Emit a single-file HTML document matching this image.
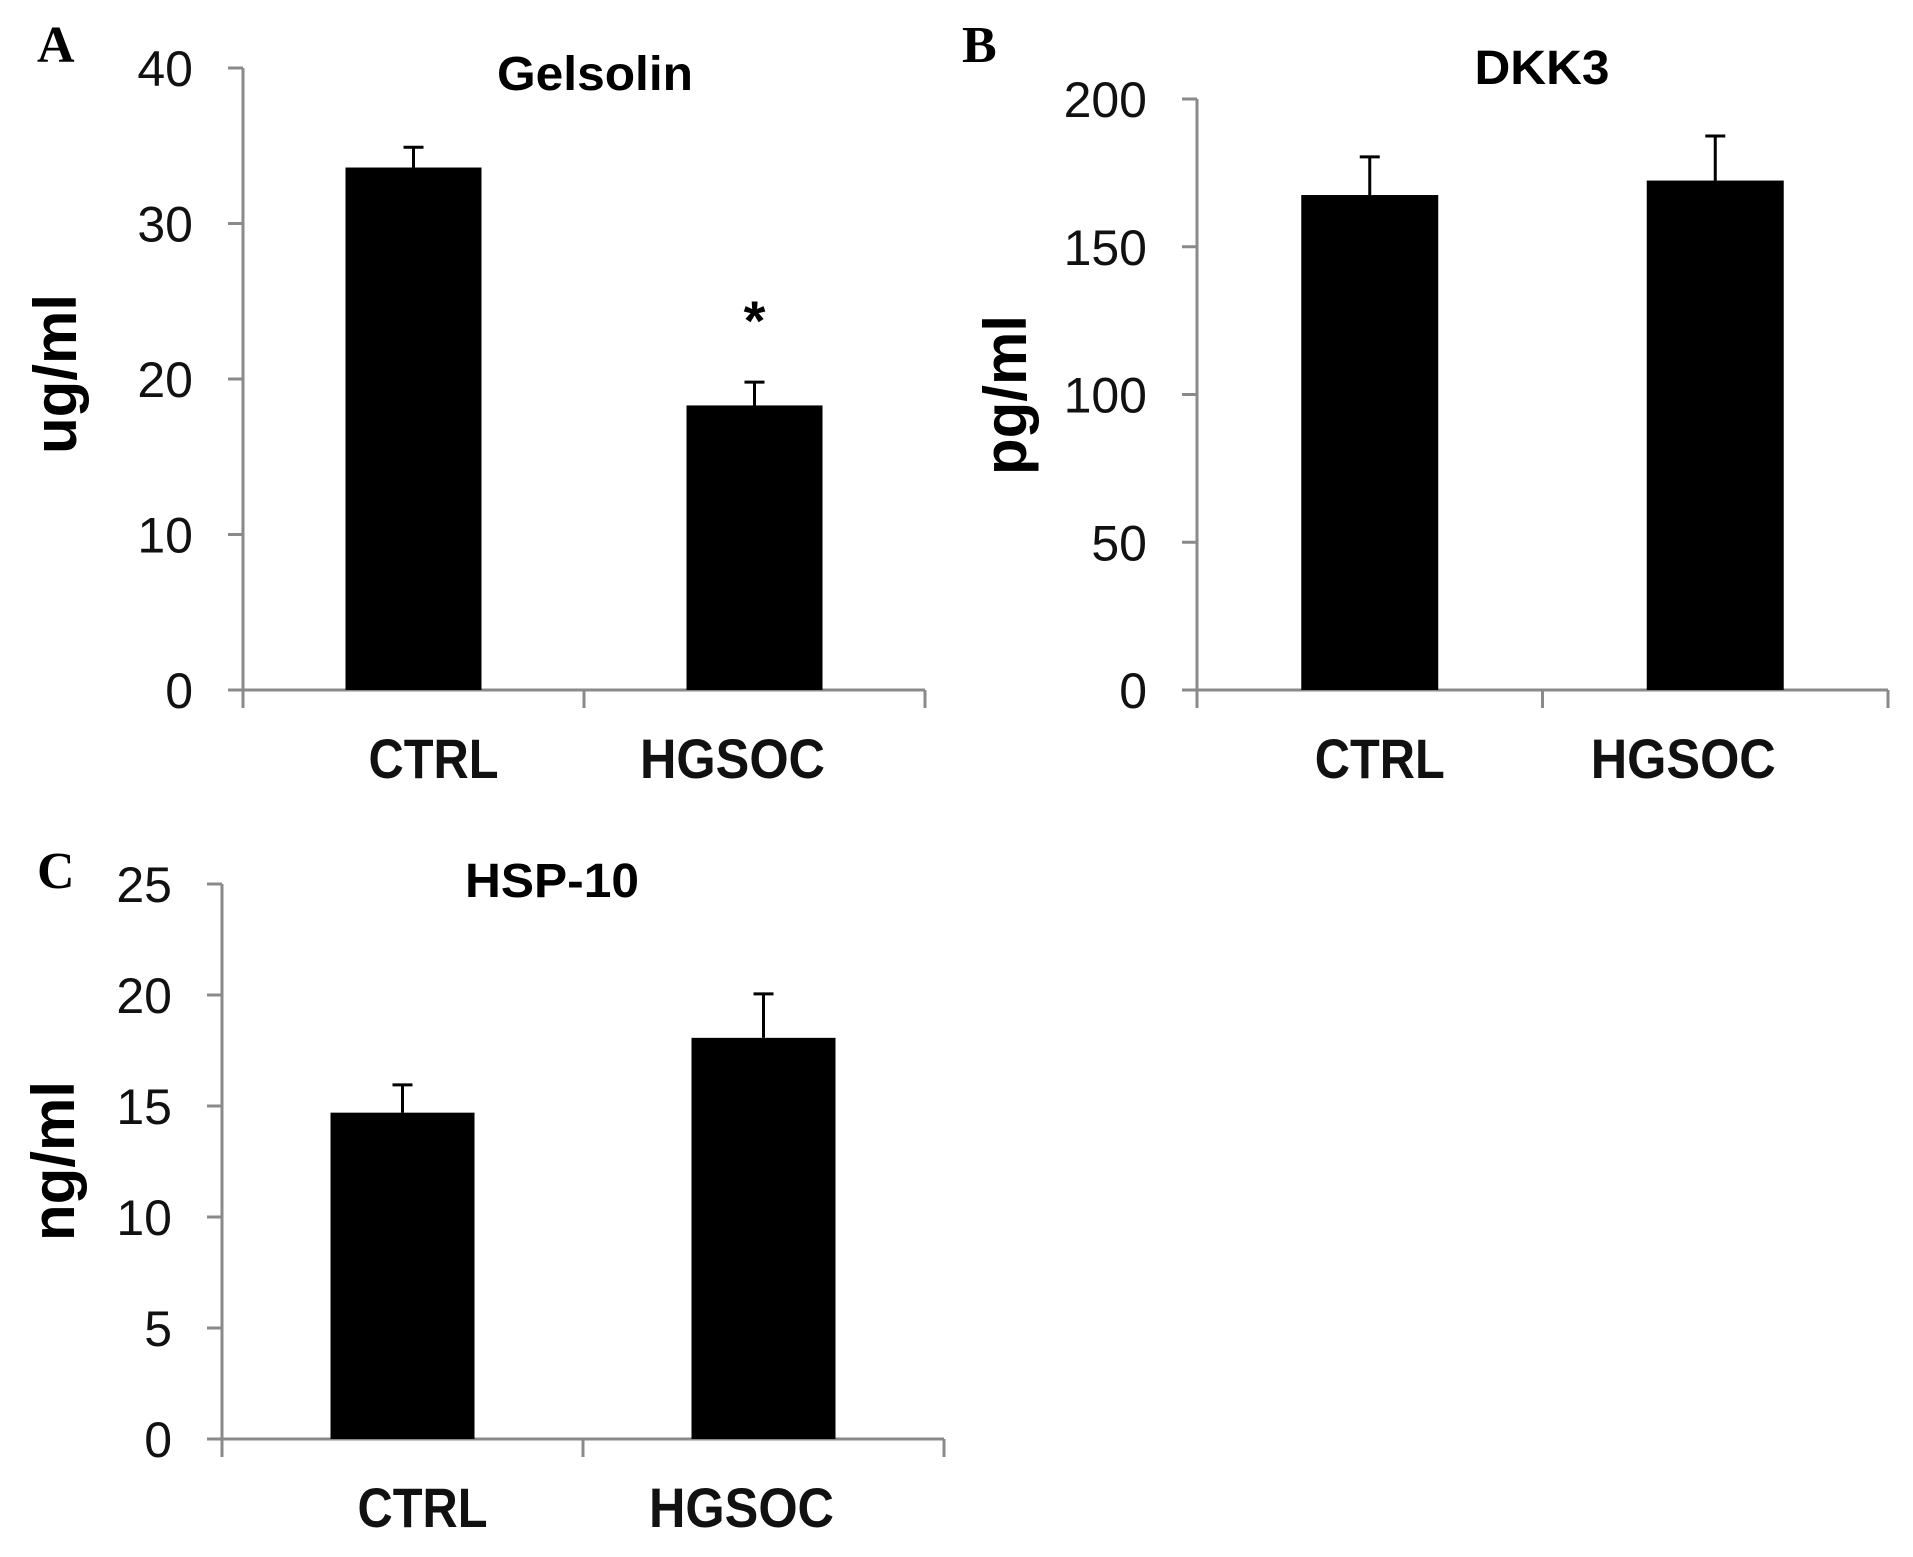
<!DOCTYPE html>
<html><head><meta charset="utf-8"><style>
html,body{margin:0;padding:0;background:#fff;width:1913px;height:1557px;overflow:hidden}
svg{display:block}
</style></head><body>
<svg id="fig" width="1913" height="1557" viewBox="0 0 1913 1557" xmlns="http://www.w3.org/2000/svg">
<text x="37" y="62" font-family="Liberation Serif, serif" font-weight="bold" font-size="52">A</text>
<text x="962" y="62" font-family="Liberation Serif, serif" font-weight="bold" font-size="52">B</text>
<text x="37" y="888" font-family="Liberation Serif, serif" font-weight="bold" font-size="52">C</text>
</svg>
<script>
const categories = ["CTRL", "HGSOC"];
const gelsolinValues = [33.6, 18.3];
const gelsolinErrors = [1.3, 1.5];
const gelsolinTicks = [0, 10, 20, 30, 40];
const dkk3Values = [167.5, 172.4];
const dkk3Errors = [12.9, 15.1];
const dkk3Ticks = [0, 50, 100, 150, 200];
const hspValues = [14.7, 18.07];
const hspErrors = [1.25, 1.98];
const hspTicks = [0, 5, 10, 15, 20, 25];

const NS = "http://www.w3.org/2000/svg";
const svg = document.getElementById("fig");
const labelWidths = {CTRL: 130, HGSOC: 185};
const labelOffsets = {CTRL: 20, HGSOC: -22};
function mk(tag, attrs, parent) {
  const e = document.createElementNS(NS, tag);
  for (const k in attrs) e.setAttribute(k, attrs[k]);
  (parent || svg).appendChild(e);
  return e;
}

function panel(cfg, values, errors, ticks) {
  const g = mk("g", {});
  
  
  const yMax = ticks[ticks.length - 1];
  const y = v => cfg.y0 - (v / yMax) * (cfg.y0 - cfg.yTop);
  const band = (cfg.xEnd - cfg.x0) / categories.length;
  const xc = i => cfg.x0 + band * (i + 0.5);
  const ya = mk("line", {x1: cfg.x0, y1: y(yMax), x2: cfg.x0, y2: cfg.y0 + 18, stroke: "#8a8a8a", "stroke-width": 3}, g);
  
  
  ticks.forEach(t => {
    const tl = mk("line", {x1: cfg.x0 - 15, y1: y(t), x2: cfg.x0, y2: y(t), stroke: "#8a8a8a", "stroke-width": 3}, g);
    
    
    const tx = mk("text", {x: cfg.x0 - 50, y: y(t) + 18, "text-anchor": "end", "font-family": "Liberation Sans, sans-serif", "font-size": 50, fill: "#111"}, g);
    tx.textContent = t;
    
    
  });
  const xa = mk("line", {x1: cfg.x0 - 15, y1: cfg.y0, x2: cfg.xEnd, y2: cfg.y0, stroke: "#8a8a8a", "stroke-width": 3}, g);
  
  
  for (let i = 1; i <= categories.length; i++) {
    const xt = mk("line", {x1: cfg.x0 + band * i, y1: cfg.y0, x2: cfg.x0 + band * i, y2: cfg.y0 + 18, stroke: "#8a8a8a", "stroke-width": 3}, g);
    
    
  }
  values.forEach((v, i) => {
    const cx = xc(i);
    const top = y(v), etop = y(v + errors[i]);
    const el = mk("line", {x1: cx, y1: top, x2: cx, y2: etop, stroke: "#000", "stroke-width": 3}, g);
    
    
    const ec = mk("line", {x1: cx - 10, y1: etop, x2: cx + 10, y2: etop, stroke: "#000", "stroke-width": 3}, g);
    
    
    const r = mk("rect", {x: cx - cfg.bw / 2, y: top, width: cfg.bw, height: cfg.y0 - top, fill: "#000"}, g);
    
    
    const off = (labelOffsets[categories[i]] || 0) + (cfg.labelShift || 0);
    const lb = mk("text", {x: cx + off, y: cfg.y0 + 88, "text-anchor": "middle", "font-family": "Liberation Sans, sans-serif", "font-weight": "bold", "font-size": 56, textLength: labelWidths[categories[i]] || 150, lengthAdjust: "spacingAndGlyphs", fill: "#111"}, g);
    lb.textContent = categories[i];
    
    
    if (cfg.star && i === cfg.star) {
      const s = mk("text", {x: cx, y: etop - 42, "text-anchor": "middle", "font-family": "Liberation Sans, sans-serif", "font-weight": "bold", "font-size": 56}, g);
      s.textContent = "*";
      
      
    }
  });
  const ti = mk("text", {x: cfg.titleX, y: cfg.titleY, "text-anchor": "middle", "font-family": "Liberation Sans, sans-serif", "font-weight": "bold", "font-size": 48, textLength: cfg.titleW, lengthAdjust: "spacingAndGlyphs"}, g);
  ti.textContent = cfg.title;
  
  
  const yl = mk("text", {x: 0, y: 0, "text-anchor": "middle", "font-family": "Liberation Sans, sans-serif", "font-weight": "bold", "font-size": 60, transform: `translate(${cfg.ylX},${cfg.ylY}) rotate(-90)`}, g);
  yl.textContent = cfg.ylabel;
  
  
}

panel({name: "panel-a-gelsolin", x0: 243, xEnd: 925, y0: 690, yTop: 68, bw: 136, star: 1,
  title: "Gelsolin", titleW: 196, titleX: 595, titleY: 90, ylabel: "ug/ml", ylX: 76, ylY: 374}, gelsolinValues, gelsolinErrors, gelsolinTicks);
panel({name: "panel-b-dkk3", x0: 1197, xEnd: 1888, y0: 690, yTop: 99, bw: 137, labelShift: -10,
  title: "DKK3", titleW: 135, titleX: 1542, titleY: 84, ylabel: "pg/ml", ylX: 1026, ylY: 395}, dkk3Values, dkk3Errors, dkk3Ticks);
panel({name: "panel-c-hsp10", x0: 222, xEnd: 944, y0: 1439, yTop: 884, bw: 144,
  title: "HSP-10", titleW: 174, titleX: 552, titleY: 897, ylabel: "ng/ml", ylX: 74, ylY: 1161}, hspValues, hspErrors, hspTicks);
</script>
</body></html>
